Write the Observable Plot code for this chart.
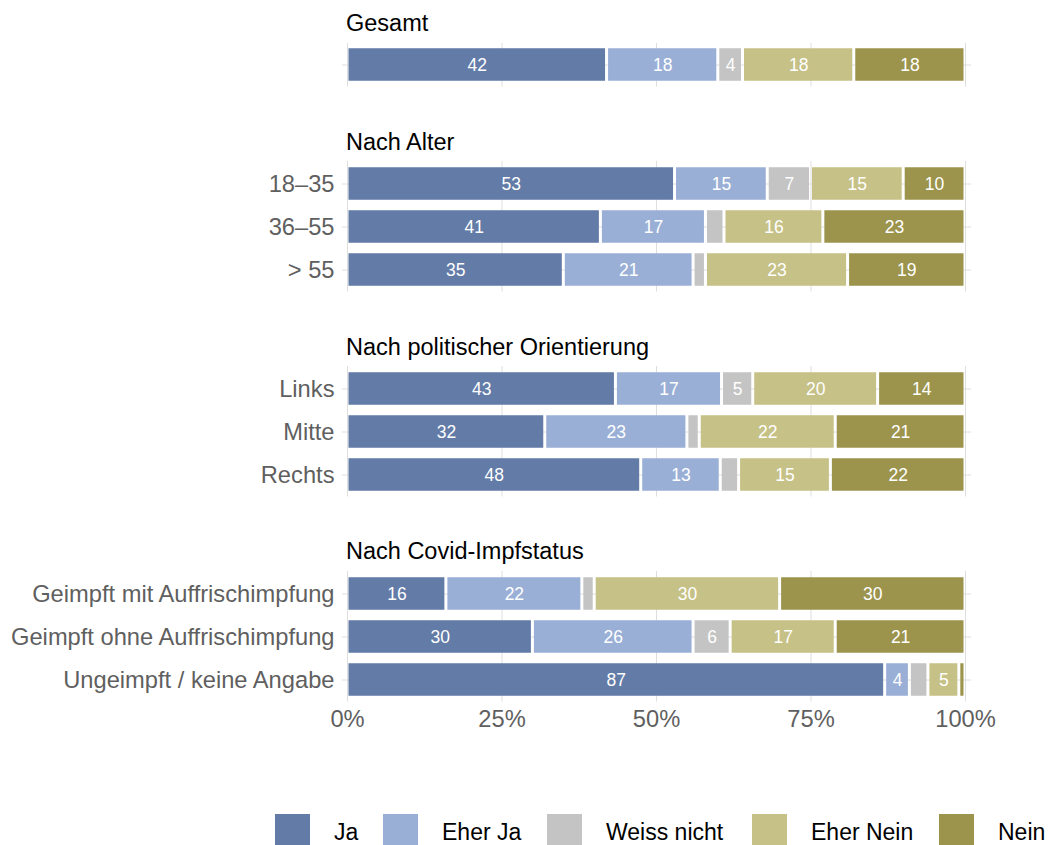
<!DOCTYPE html>
<html><head><meta charset="utf-8">
<script src="https://cdn.jsdelivr.net/npm/d3@7"></script>
<script src="https://cdn.jsdelivr.net/npm/@observablehq/plot@0.6"></script>
<style>
body{margin:0;background:#fff;font-family:"Liberation Sans",Arial,sans-serif;}
#root{position:relative;width:1049px;height:845px;overflow:hidden;background:#fff;}
.heading{position:absolute;left:346px;font-size:23.5px;color:#000;line-height:28px;white-space:nowrap;}
.block{position:absolute;left:0;}
.legend{position:absolute;top:814px;left:0;width:1049px;height:40px;}
.sw{position:absolute;top:0;width:35px;height:35px;}
.lab{position:absolute;top:4px;font-size:23px;line-height:28px;color:#000;white-space:nowrap;}
</style></head><body><div id="root"></div>
<script>
const answers = ["Ja","Eher Ja","Weiss nicht","Eher Nein","Nein"];
const colors = ["#637ba7","#9aafd6","#c4c4c4","#c6c186","#9c944d"];
const groups = ["Gesamt","Nach Alter","Nach politischer Orientierung","Nach Covid-Impfstatus"];
const groupRows = [
  ["Gesamt"],
  ["18–35","36–55","> 55"],
  ["Links","Mitte","Rechts"],
  ["Geimpft mit Auffrischimpfung","Geimpft ohne Auffrischimpfung","Ungeimpft / keine Angabe"]
];
// values per row (flattened in the order of groupRows)
const ja         = [42,53,41,35,43,32,48,16,30,87];
const eherJa     = [18,15,17,21,17,23,13,22,26, 4];
const weissNicht = [ 4, 7, 3, 2, 5, 2, 3, 2, 6, 3];
const eherNein   = [18,15,16,23,20,22,15,30,17, 5];
const nein       = [18,10,23,19,14,21,22,30,21, 1];
const xTicks = [0,0.25,0.5,0.75,1];

const series = [ja,eherJa,weissNicht,eherNein,nein];
const allRows = groupRows.flat();
const data = [];
allRows.forEach((row,i)=>answers.forEach((a,j)=>data.push({row, answer:a, value:series[j][i]})));

const root = document.getElementById("root");
const firstRowCenter = [65,183,388,593];
const headingCenter = [23,142,347,551];
const step = 43.5;

groups.forEach((g,gi)=>{
  const rows = groupRows[gi];
  const last = gi === groups.length-1;
  const h = document.createElement("div");
  h.className = "heading";
  h.style.top = (headingCenter[gi]-14)+"px";
  h.textContent = g;
  root.appendChild(h);

  const d = data.filter(r=>rows.includes(r.row));
  const stackOpts = {offset:"normalize", order:answers, x:"value", y:"row", z:"answer"};
  const chart = Plot.plot({
    width:1049, height: rows.length*step + (last?46:0),
    marginLeft:347, marginRight:84, marginTop:0, marginBottom: last?46:0,
    style:{fontFamily:'"Liberation Sans",Arial,sans-serif', fontSize:"23.7px", color:"#5f5f5f", background:"transparent"},
    x:{domain:[0,1], axis: last ? "bottom" : null, ticks:xTicks, tickFormat:v=>Math.round(v*100)+"%", tickSize:0, tickPadding:8, label:null},
    y:{domain:rows, padding:0, tickSize:0, tickPadding:13, tickFormat:v=> v==="Gesamt" ? "" : v, label:null},
    color:{domain:answers, range:colors},
    marks:[
      Plot.ruleX(xTicks,{stroke:"#dedede", strokeWidth:1}),
      Plot.ruleY(rows,{y:v=>v, x1:-0.008, x2:1.01, stroke:"#dedede", strokeWidth:1}),
      Plot.barX(d, Plot.stackX({...stackOpts, fill:"answer", insetTop:5.25, insetBottom:5.25, insetLeft:1.5, insetRight:1.5})),
      Plot.text(d, Plot.stackX({...stackOpts, text:r=> r.value>=4 ? String(r.value) : "", fill:"white", fontSize:17.5}))
    ]
  });
  chart.classList.add("block");
  chart.style.top = (firstRowCenter[gi]-step/2)+"px";
  root.appendChild(chart);
});

// legend
const legend = document.createElement("div");
legend.className = "legend";
const swX = [275,383,547,752,939];
answers.forEach((a,i)=>{
  const s = document.createElement("div");
  s.className="sw"; s.style.left = swX[i]+"px"; s.style.background = colors[i];
  legend.appendChild(s);
  const l = document.createElement("div");
  l.className="lab"; l.style.left = (swX[i]+59)+"px"; l.textContent = a;
  legend.appendChild(l);
});
root.appendChild(legend);
</script></body></html>
